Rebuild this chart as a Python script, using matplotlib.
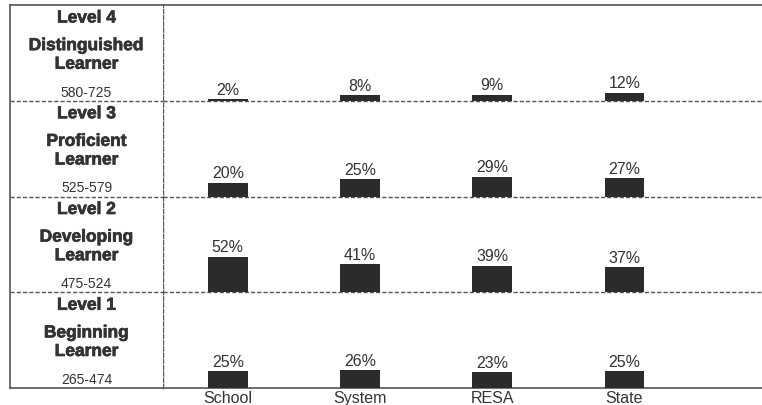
import numpy as np
import matplotlib
matplotlib.use('Agg')
import matplotlib.pyplot as plt
import matplotlib.patheffects as pe

plt.rcParams['font.family'] = ['Liberation Sans', 'DejaVu Sans']

# data
categories = ['School', 'System', 'RESA', 'State']
level_titles = ['Level 1', 'Level 2', 'Level 3', 'Level 4']
level_names = ['Beginning\nLearner', 'Developing\nLearner', 'Proficient\nLearner', 'Distinguished\nLearner']
level_ranges = ['265-474', '475-524', '525-579', '580-725']
level1 = [25, 26, 23, 25]
level2 = [52, 41, 39, 37]
level3 = [20, 25, 29, 27]
level4 = [2, 8, 9, 12]

rows = [level1, level2, level3, level4]
row_span = 140  # % units per row band
ink = '#2b2b2b'
txt = '#333333'
line_col = '#555555'

fig = plt.figure(figsize=(7.62, 4.05), dpi=100)
ax = fig.add_axes([163 / 762, 17 / 405, 599 / 762, 383 / 405])
ax_lab = fig.add_axes([10 / 762, 17 / 405, 153 / 762, 383 / 405], sharey=ax)

x = np.arange(len(categories))
for i, vals in enumerate(rows):
    base = i * row_span
    bars = ax.bar(x, vals, width=0.30, bottom=base, color=ink, zorder=3)
    for b, v in zip(bars, vals):
        ax.annotate(f'{v}%', (b.get_x() + b.get_width() / 2, base + v),
                    xytext=(0, 1), textcoords='offset points',
                    ha='center', va='bottom', fontsize=11.5, color=txt)

ax.set_xlim(-0.49, 4.04)
ax.set_ylim(0, row_span * 4)
ax.set_xticks(x)
ax.set_xticklabels(categories, fontsize=11.5, color=txt)
ax.tick_params(axis='x', length=0, pad=2)
ax.set_yticks([])

for sep in range(1, 4):
    ax.axhline(sep * row_span, color=line_col, lw=1.0, ls=(0, (3, 1.5)), zorder=2)
    ax_lab.axhline(sep * row_span, color=line_col, lw=1.0, ls=(0, (3, 1.5)))

for s in ['top', 'bottom']:
    ax.spines[s].set_color(line_col)
    ax.spines[s].set_linewidth(1.2)
ax.spines['right'].set_visible(False)
ax.spines['left'].set_color(line_col)
ax.spines['left'].set_linestyle((0, (3, 1.5)))
ax.spines['left'].set_linewidth(1.0)

# left panel with the level descriptions
ax_lab.set_xlim(0, 1)
ax_lab.set_xticks([])
ax_lab.tick_params(axis='y', left=False, labelleft=False)
ax_lab.spines['right'].set_visible(False)
for s in ['top', 'bottom', 'left']:
    ax_lab.spines[s].set_color(line_col)
    ax_lab.spines[s].set_linewidth(1.2)

heavy = [pe.withStroke(linewidth=0.5, foreground=txt)]
for i in range(4):
    top = (i + 1) * row_span
    ax_lab.text(0.5, top - 19, level_titles[i], ha='center', va='center',
                fontsize=12.5, fontweight='bold', color=txt, path_effects=heavy)
    ax_lab.text(0.5, top - 73, level_names[i], ha='center', va='center',
                fontsize=12.5, fontweight='bold', color=txt, linespacing=1.3,
                path_effects=heavy)
    ax_lab.text(0.5, top - 128, level_ranges[i], ha='center', va='center',
                fontsize=10, color=txt)

fig.savefig('out.png', dpi=100)
